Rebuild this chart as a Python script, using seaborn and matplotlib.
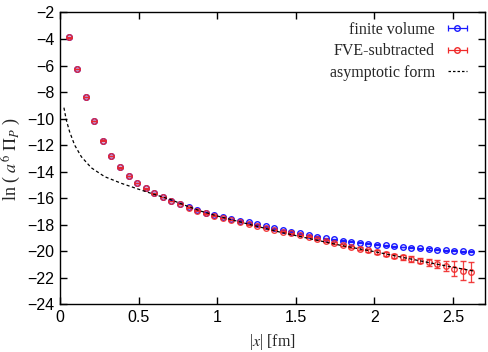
import numpy as np
import pandas as pd
import seaborn as sns
import matplotlib.pyplot as plt
from matplotlib.lines import Line2D
from matplotlib.legend_handler import HandlerLine2D

# distances |x| in fm (lattice points along the axis)
x_fm = [0.055, 0.109, 0.164, 0.218, 0.273, 0.327, 0.382, 0.436, 0.491, 0.545,
        0.600, 0.654, 0.709, 0.763, 0.818, 0.872, 0.927, 0.981, 1.036, 1.090,
        1.145, 1.199, 1.254, 1.308, 1.363, 1.417, 1.472, 1.526, 1.581, 1.635,
        1.690, 1.744, 1.799, 1.853, 1.908, 1.962, 2.017, 2.071, 2.126, 2.180,
        2.235, 2.289, 2.344, 2.398, 2.453, 2.507, 2.562, 2.616]

finite_volume = [-3.87, -6.24, -8.35, -10.17, -11.66, -12.81, -13.67, -14.32, -14.83, -15.25,
                 -15.61, -15.90, -16.17, -16.41, -16.66, -16.88, -17.08, -17.26, -17.42, -17.56,
                 -17.69, -17.82, -17.97, -18.12, -18.26, -18.39, -18.52, -18.64, -18.76, -18.88,
                 -19.00, -19.10, -19.19, -19.27, -19.35, -19.42, -19.49, -19.55, -19.61, -19.67,
                 -19.72, -19.77, -19.82, -19.87, -19.92, -19.96, -19.99, -20.01]
finite_volume_err = [0.02] * 30 + [0.03] * 10 + [0.04] * 8

fve_subtracted = [-3.87, -6.24, -8.35, -10.17, -11.66, -12.81, -13.67, -14.32, -14.83, -15.25,
                  -15.62, -15.91, -16.19, -16.43, -16.70, -16.93, -17.13, -17.31, -17.47, -17.64,
                  -17.79, -17.96, -18.09, -18.22, -18.38, -18.52, -18.64, -18.76, -18.89, -19.07,
                  -19.22, -19.40, -19.54, -19.67, -19.80, -19.93, -20.05, -20.18, -20.32, -20.45,
                  -20.57, -20.69, -20.82, -20.95, -21.12, -21.32, -21.44, -21.53]
fve_subtracted_err = [0.02] * 28 + [0.04, 0.05, 0.06, 0.07, 0.08, 0.09, 0.10, 0.11, 0.12,
                                    0.14, 0.15, 0.18, 0.20, 0.21, 0.25, 0.29, 0.38, 0.57, 0.72, 0.75]

# asymptotic form
asym_x = [0.025, 0.040, 0.061, 0.093, 0.136, 0.199, 0.284, 0.390, 0.496, 0.580,
          0.700, 0.800, 0.900, 1.000, 1.200, 1.400, 1.600, 1.800, 2.000, 2.200,
          2.400, 2.640]
asym_y = [-9.17, -10.10, -10.98, -11.99, -12.87, -13.70, -14.37, -14.87, -15.30, -15.63,
          -16.08, -16.55, -16.98, -17.33, -17.95, -18.55, -19.07, -19.58, -20.02, -20.50,
          -20.97, -21.50]

asym = pd.DataFrame({"x": asym_x, "y": asym_y})

blue = "#1a1aff"
red = "#f02a2a"

sns.set_theme(style="ticks")
plt.rcParams["font.family"] = ["Liberation Sans", "DejaVu Sans"]
plt.rcParams["mathtext.fontset"] = "stix"

fig = plt.figure(figsize=(4.89, 3.52), dpi=100)
ax = fig.add_axes([0.1227, 0.135, 0.8681, 0.8295])

ax.errorbar(x_fm, finite_volume, yerr=finite_volume_err, fmt="o", color=blue,
            mfc="none", ms=4, mew=1.0, elinewidth=0.9, capsize=2, capthick=0.9, zorder=3)
ax.errorbar(x_fm, fve_subtracted, yerr=fve_subtracted_err, fmt="o", color=red,
            mfc="none", ms=4, mew=1.0, elinewidth=0.9, capsize=2, capthick=0.9,
            alpha=0.9, zorder=4)
sns.lineplot(data=asym, x="x", y="y", ax=ax, color="black", linewidth=0.9,
             linestyle=(0, (2.5, 2)), legend=False, zorder=5)

ax.set_xlim(0, 2.7)
ax.set_ylim(-24, -2)
ax.set_xticks([0, 0.5, 1, 1.5, 2, 2.5])
ax.set_xticklabels(["0", "0.5", "1", "1.5", "2", "2.5"])
ax.set_yticks(np.arange(-24, -1, 2))
ax.tick_params(direction="in", top=True, right=True, length=5, width=1,
               labelsize=11.5, colors="black", pad=4)
for s in ax.spines.values():
    s.set_color("black")
    s.set_linewidth(1.0)

ax.set_xlabel(r"|$x$| [fm]", family="Liberation Serif", fontsize=11.5, labelpad=5)
ax.set_ylabel(r"ln ( $a^6\ \Pi_P$ )", family="Liberation Serif", fontsize=13, labelpad=3)

# gnuplot-style legend samples: horizontal bar with end caps and a circle
handles = []
hmap = {}
for c in (blue, red):
    bar = Line2D([], [], color=c, linewidth=0.9, marker="|", ms=5, mew=0.9)
    dot = Line2D([], [], color=c, linestyle="none", marker="o", ms=4, mew=1.0,
                 mfc="none")
    hmap[dot] = HandlerLine2D(numpoints=1)
    handles.append((bar, dot))
handles.append(Line2D([], [], color="black", linewidth=0.9, linestyle=(0, (2, 1.6))))
labels = ["finite volume", "FVE-subtracted", "asymptotic form"]

ax.legend(handles, labels, handler_map=hmap, numpoints=2,
          loc="upper right", bbox_to_anchor=(0.985, 0.99), borderaxespad=0,
          frameon=False, markerfirst=False, handlelength=1.8, handletextpad=0.5,
          labelspacing=0.35, prop={"family": "Liberation Serif", "size": 11.5})

fig.savefig("out.png", dpi=100)
